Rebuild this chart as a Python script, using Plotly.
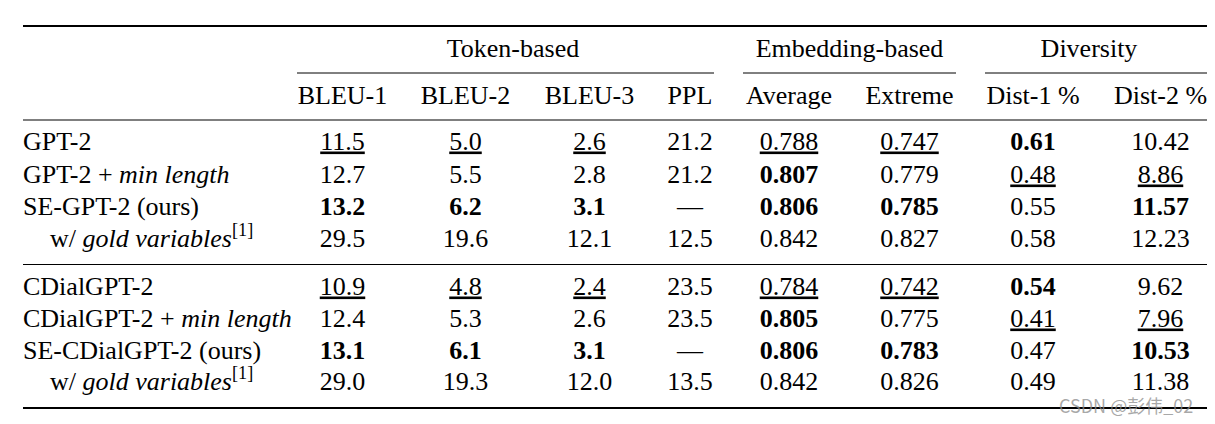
import plotly.graph_objects as go

# table content
groups = ["Token-based", "Embedding-based", "Diversity"]
columns = ["BLEU-1", "BLEU-2", "BLEU-3", "PPL", "Average", "Extreme", "Dist-1 %", "Dist-2 %"]
models = [
    "GPT-2",
    "GPT-2 + <i>min length</i>",
    "SE-GPT-2 (ours)",
    "w/ <i>gold variables</i><sup>[1]</sup>",
    "CDialGPT-2",
    "CDialGPT-2 + <i>min length</i>",
    "SE-CDialGPT-2 (ours)",
    "w/ <i>gold variables</i><sup>[1]</sup>",
]
indented = [False, False, False, True, False, False, False, True]

bleu1 = [11.5, 12.7, 13.2, 29.5, 10.9, 12.4, 13.1, 29.0]
bleu2 = [5.0, 5.5, 6.2, 19.6, 4.8, 5.3, 6.1, 19.3]
bleu3 = [2.6, 2.8, 3.1, 12.1, 2.4, 2.6, 3.1, 12.0]
ppl = [21.2, 21.2, None, 12.5, 23.5, 23.5, None, 13.5]
emb_avg = [0.788, 0.807, 0.806, 0.842, 0.784, 0.805, 0.806, 0.842]
emb_ext = [0.747, 0.779, 0.785, 0.827, 0.742, 0.775, 0.783, 0.826]
dist1 = [0.61, 0.48, 0.55, 0.58, 0.54, 0.41, 0.47, 0.49]
dist2 = [10.42, 8.86, 11.57, 12.23, 9.62, 7.96, 10.53, 11.38]
decimals = [1, 1, 1, 1, 3, 3, 2, 2]

# b = best (bold), u = second best (underlined)
bleu1_mark = ["u", "", "b", "", "u", "", "b", ""]
bleu2_mark = ["u", "", "b", "", "u", "", "b", ""]
bleu3_mark = ["u", "", "b", "", "u", "", "b", ""]
ppl_mark = ["", "", "", "", "", "", "", ""]
emb_avg_mark = ["u", "b", "b", "", "u", "b", "b", ""]
emb_ext_mark = ["u", "", "b", "", "u", "", "b", ""]
dist1_mark = ["b", "u", "", "", "b", "u", "", ""]
dist2_mark = ["", "u", "b", "", "", "u", "b", ""]

values = [bleu1, bleu2, bleu3, ppl, emb_avg, emb_ext, dist1, dist2]
marks = [bleu1_mark, bleu2_mark, bleu3_mark, ppl_mark, emb_avg_mark,
         emb_ext_mark, dist1_mark, dist2_mark]

# layout (pixel units on both axes; the page body adds an 8px offset)
W, H = 1215, 424
OFF = 8
col_x = [342.5, 465.5, 589.5, 690, 789, 909.5, 1033, 1160.5]
group_x = [513, 849.5, 1089]
group_rule = [(297, 714), (743, 956), (985, 1208)]
row_y = [143, 176, 208, 240, 288, 320, 352, 383]
y_group, y_head = 50, 97
left, right = 23, 1208
font = dict(family="Liberation Serif", size=26, color="black")


def fmt(v, d, m):
    s = "—" if v is None else f"{v:.{d}f}"
    if m == "b":
        s = f"<b>{s}</b>"
    elif m == "u":
        s = f"<u>{s}</u>"
    return s


fig = go.Figure()

# group headers and column headers
fig.add_trace(go.Scatter(x=group_x, y=[y_group] * 3, text=groups, mode="text",
                         textposition="middle center", textfont=font, hoverinfo="skip"))
fig.add_trace(go.Scatter(x=col_x, y=[y_head] * len(columns), text=columns, mode="text",
                         textposition="middle center", textfont=font, hoverinfo="skip"))

# row labels
fig.add_trace(go.Scatter(x=[50 if ind else left for ind in indented], y=row_y, text=models,
                         mode="text", textposition="middle right", textfont=font,
                         hoverinfo="skip"))

# data cells, one trace per column
for ci, (vals, mk) in enumerate(zip(values, marks)):
    fig.add_trace(go.Scatter(
        x=[col_x[ci]] * len(vals), y=row_y,
        text=[fmt(v, decimals[ci], m) for v, m in zip(vals, mk)],
        mode="text", textposition="middle center", textfont=font, hoverinfo="skip"))


# rules
def rule(x0, x1, y, w):
    fig.add_shape(type="line", xref="x", yref="y", x0=x0, x1=x1, y0=y, y1=y,
                  line=dict(color="black", width=w))


rule(left, right, 26, 2)
for a, b in group_rule:
    rule(a, b, 73, 1)
rule(left, right, 120, 1.2)
rule(left, right, 264.5, 1.2)
rule(left, right, 408, 2)

# watermark
fig.add_annotation(x=1126, y=405, xref="x", yref="y", text="CSDN @彭伟_02", showarrow=False,
                   font=dict(family="Noto Sans CJK SC", size=18,
                             color="rgba(140,140,140,0.75)"))

fig.update_layout(
    width=W, height=H, margin=dict(l=0, r=0, t=0, b=0),
    paper_bgcolor="white", plot_bgcolor="white", showlegend=False,
    xaxis=dict(range=[OFF, W + OFF], visible=False, fixedrange=True),
    yaxis=dict(range=[H + OFF, OFF], visible=False, fixedrange=True),
)

fig.write_html("out.html")
